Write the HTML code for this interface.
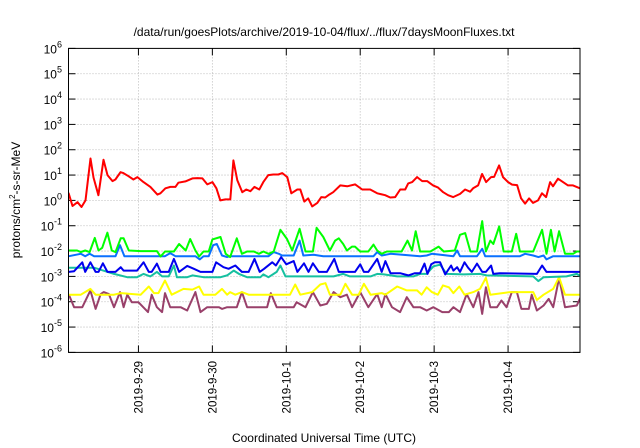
<!DOCTYPE html>
<html><head><meta charset="utf-8">
<style>
html,body{margin:0;padding:0;background:#fff;}
svg{display:block;font-family:"Liberation Sans",sans-serif;}
</style></head>
<body>
<svg id="chart" width="640" height="448" viewBox="0 0 640 448">
  <text x="324" y="36" font-size="12" text-anchor="middle" fill="#000">/data/run/goesPlots/archive/2019-10-04/flux/../flux/7daysMoonFluxes.txt</text>
  <g id="grid"></g>
  <g id="yaxis"></g>
  <g id="xaxis"></g>
  <defs><clipPath id="plotclip"><rect x="68.5" y="48.4" width="511.5" height="304"/></clipPath></defs>
  <g id="series" clip-path="url(#plotclip)"></g>
  <rect x="68.5" y="48.4" width="511.5" height="304" fill="none" stroke="#000" stroke-width="1"/>
  <text transform="translate(20,200) rotate(-90)" font-size="12" text-anchor="middle">protons/cm<tspan font-size="8" dy="-5">2</tspan><tspan dy="5">-s-sr-MeV</tspan></text>
  <text x="324" y="442" font-size="12" text-anchor="middle">Coordinated Universal Time (UTC)</text>
</svg>
<script>
const yExps = [-6,-5,-4,-3,-2,-1,0,1,2,3,4,5,6];
const xTickDays = [1,2,3,4,5,6];
const xTickLabels = ["2019-9-29","2019-9-30","2019-10-1","2019-10-2","2019-10-3","2019-10-4"];

const redT = [.054,.108,.176,.23,.284,.351,.392,.459,.527,.581,.649,.689,.757,.797,.865,.932,.986,1.068,1.162,1.257,1.297,1.365,1.432,1.5,1.54,1.635,1.73,1.797,1.865,1.932,2.0,2.054,2.108,2.176,2.243,2.284,2.338,2.405,2.459,2.514,2.568,2.635,2.689,2.757,2.824,2.892,2.946,3.014,3.068,3.149,3.189,3.243,3.297,3.351,3.419,3.473,3.527,3.581,3.635,3.73,3.824,3.932,4.027,4.135,4.23,4.338,4.405,4.473,4.541,4.608,4.649,4.703,4.77,4.838,4.905,4.986,5.054,5.122,5.189,5.257,5.351,5.419,5.486,5.527,5.595,5.649,5.703,5.77,5.811,5.878,5.932,6.0,6.054,6.122,6.176,6.23,6.284,6.338,6.405,6.459,6.514,6.568,6.608,6.676,6.743,6.811,6.878,6.973];
const redV = [2,0.6,0.85,0.55,1.0,45,8,1.6,40,10,5.8,6.7,13,12,9,6.7,8.3,5.3,3.4,1.7,1.9,3,3.4,3.4,5,5.6,7.4,7.6,7.4,4.3,5.3,3,1,1.1,1.1,38,6.2,2.1,2.7,2.3,3.4,2.7,5.3,10,10.5,10.5,12,8.3,1.9,2.7,2.7,0.9,1.2,0.58,0.8,1.35,1.3,1.7,2.1,3.9,3.6,4.3,2.7,2.7,1.9,1.6,1.3,1.35,2.7,2.7,4.7,5.3,8.3,5.8,5.8,3.9,3.2,2.1,1.6,1.35,1.8,2.7,2.2,3,3.9,11,5.3,8.3,8.5,24,8.3,5.3,4.2,4,1.2,0.75,1.2,0.8,1,1.9,1.35,5.3,3.6,7.2,5.3,3.9,3.9,3];

const greenT = [.06,.17,.22,.28,.34,.41,.46,.51,.58,.64,.69,.76,.80,.87,1.03,1.25,1.30,1.36,1.48,1.55,1.64,1.70,1.77,1.82,1.88,1.95,2.00,2.11,2.18,2.24,2.33,2.40,2.47,2.56,2.63,2.69,2.76,2.83,2.92,3.01,3.08,3.18,3.26,3.36,3.41,3.50,3.59,3.66,3.71,3.77,3.82,3.89,3.93,4.00,4.11,4.18,4.23,4.29,4.36,4.56,4.64,4.70,4.75,4.81,4.95,5.06,5.13,5.28,5.35,5.42,5.49,5.58,5.65,5.70,5.76,5.80,5.88,5.94,6.05,6.11,6.16,6.34,6.46,6.52,6.58,6.63,6.69,6.77,6.88,6.93,7.00];
const greenV = [.0105,.0105,.0091,.0105,.0091,.033,.0105,.0135,.053,.0105,.0091,.032,.032,.0105,.010,.010,.0061,.0096,.0096,.019,.0105,.030,.0105,.0061,.0096,.0096,.029,.036,.0078,.0058,.032,.0078,.0096,.0096,.0078,.0096,.0078,.0096,.069,.030,.0105,.076,.0096,.0096,.083,.036,.0105,.026,.032,.019,.0105,.015,.015,.0096,.0096,.018,.0105,.0078,.0096,.0096,.026,.0105,.061,.0096,.0096,.015,.0096,.0105,.044,.051,.0096,.0096,.152,.0096,.026,.019,.094,.0096,.0096,.048,.0096,.0096,.069,.0078,.069,.0096,.061,.0078,.0078,.0096,.0096];

const lblueT = [.06,.22,.28,.34,.40,.69,.75,.81,1.36,1.43,1.50,1.77,1.83,1.88,1.95,2.01,2.06,2.13,2.20,2.24,2.76,2.83,2.90,2.94,3.10,3.18,3.23,3.37,3.50,4.18,4.23,4.29,4.41,4.81,4.90,4.97,5.26,5.31,5.35,5.58,5.65,5.69,6.16,6.23,6.34,6.41,6.48,6.52,6.61,7.00];
const lblueV = [.0063,.0078,.0063,.0078,.0063,.0063,.017,.0063,.0063,.0083,.0063,.0063,.0047,.0063,.0063,.017,.019,.0067,.0058,.0063,.0063,.0091,.0078,.0067,.0067,.026,.0067,.0071,.0063,.0063,.0091,.0067,.0078,.0063,.0067,.0078,.0063,.0105,.0063,.0063,.0123,.0063,.0063,.0078,.0067,.0058,.0067,.0047,.0063,.0063];

const blueT = [.06,.13,.24,.28,.35,.42,.46,.52,.58,.69,.76,.80,.98,1.07,1.14,1.18,1.25,1.30,1.41,1.48,1.55,1.66,1.75,1.84,2.00,2.05,2.15,2.22,2.31,2.40,2.49,2.57,2.64,2.70,2.81,2.86,2.93,3.00,3.10,3.15,3.24,3.30,3.36,3.44,3.55,3.65,3.71,3.93,4.00,4.05,4.11,4.23,4.29,4.34,4.41,4.54,4.65,4.74,4.81,4.87,4.91,4.96,5.01,5.08,5.15,5.23,5.26,5.31,5.35,5.41,5.46,5.51,5.58,5.65,5.70,5.77,5.80,5.89,6.39,6.46,6.52,7.00];
const blueV = [.0015,.0016,.0036,.0015,.0036,.0015,.0015,.0033,.0015,.0015,.0023,.0017,.0017,.0036,.0015,.0015,.0032,.0015,.0015,.0049,.0015,.0026,.0020,.0015,.0015,.0036,.0023,.0020,.0027,.0015,.0015,.0049,.0015,.0020,.0036,.0027,.0058,.0030,.0040,.0015,.0033,.0015,.0033,.0015,.0015,.0049,.0015,.0015,.0030,.0015,.0015,.0049,.0015,.0040,.00134,.00134,.0011,.00134,.00134,.0032,.00126,.0030,.0036,.0036,.0012,.0027,.0017,.0023,.0015,.0036,.0022,.0015,.0032,.0015,.0015,.0027,.00126,.00134,.00126,.0027,.0015,.0015];

const tealT = [.06,.40,.67,.85,.98,1.07,1.16,1.25,1.32,1.41,1.48,1.52,1.66,1.73,1.88,2.11,2.20,2.29,2.36,2.47,2.65,2.69,2.76,2.87,2.92,2.99,3.64,3.77,3.86,4.14,4.23,4.32,4.50,4.72,4.81,4.90,4.99,5.08,5.17,5.40,5.62,5.71,6.34,6.41,6.48,6.79,6.93,7.00];
const tealV = [.0022,.0022,.00126,.00093,.00093,.00126,.0010,.0015,.0010,.0010,.0027,.00093,.00093,.0011,.00093,.00093,.0011,.0017,.00126,.00093,.00093,.0012,.00093,.0015,.0027,.0010,.0010,.00126,.0010,.0010,.00126,.0012,.0010,.0010,.00126,.00126,.0025,.0029,.00126,.0012,.00126,.0011,.0010,.00065,.00093,.0010,.00126,.00093];

const yellowT = [.06,.22,.35,.42,.67,.76,1.03,1.14,1.21,1.27,1.36,1.45,1.61,1.73,1.82,1.88,2.04,2.13,2.20,2.24,2.31,2.40,2.49,3.05,3.12,3.19,3.35,3.46,3.53,3.59,3.73,3.80,3.89,3.98,4.05,4.14,4.29,4.34,4.50,4.63,4.77,4.83,4.90,4.97,5.05,5.12,5.20,5.26,5.34,5.41,5.53,5.62,5.70,5.76,6.03,6.34,6.39,6.48,6.61,6.69,6.77,7.00];
const yellowV = [.00019,.00019,.00032,.00019,.00019,.00022,.00019,.00040,.00022,.00022,.00069,.00019,.00032,.00030,.00040,.00019,.00019,.00032,.00019,.00024,.00019,.00024,.00019,.00019,.00048,.00019,.00024,.00048,.00054,.00019,.00019,.00051,.00019,.00019,.00051,.00019,.00022,.00019,.00040,.00028,.00028,.00019,.00037,.00024,.00019,.00044,.00037,.00022,.00040,.00019,.00024,.00032,.00088,.00019,.00024,.00024,.000118,.00019,.00032,.00093,.00019,.00019];

const purpleT = [.06,.13,.24,.35,.42,.49,.53,.60,.67,.75,.80,.85,.91,1.00,1.13,1.18,1.25,1.32,1.36,1.43,1.57,1.66,1.77,1.84,1.93,2.09,2.13,2.20,2.33,2.40,2.47,2.74,2.79,2.87,3.10,3.14,3.26,3.36,3.46,3.55,3.64,3.73,3.82,3.89,4.00,4.11,4.23,4.29,4.34,4.43,4.54,4.63,4.72,4.81,4.90,4.99,5.11,5.20,5.26,5.35,5.44,5.53,5.60,5.65,5.70,5.76,5.85,5.91,5.98,6.05,6.12,6.18,6.28,6.32,6.39,6.48,6.55,6.61,6.69,6.77,6.93,7.00];
const purpleV = [.00019,.000061,.000061,.00028,.000052,.00020,.00024,.00020,.000061,.00024,.000061,.00019,.000096,.000096,.000039,.00019,.000061,.000039,.00022,.000061,.000061,.000045,.00024,.000039,.000061,.000061,.000052,.000061,.000061,.00024,.000061,.000061,.00022,.000061,.000061,.000096,.000061,.00024,.000071,.000083,.00024,.000151,.00019,.000061,.00024,.000061,.00020,.000061,.00020,.000061,.000039,.000151,.000061,.000061,.000045,.000061,.000039,.000039,.000061,.000039,.00020,.000061,.00024,.000033,.00037,.000061,.000061,.000112,.000061,.00024,.00024,.000052,.000052,.00019,.000045,.000071,.000129,.000061,.00088,.000061,.000071,.00020];

const NS = "http://www.w3.org/2000/svg";
const L = 68.5, R = 580, T = 48.4, B = 352.4;
const xMin = 0.054, xMax = 6.973;
function xs(d){ return L + (d - xMin) / (xMax - xMin) * (R - L); }
function ys(v){ return B - (Math.log10(v) + 6) / 12 * (B - T); }
function mk(tag, attrs, parent){
  const e = document.createElementNS(NS, tag);
  for (const k in attrs) e.setAttribute(k, attrs[k]);
  parent.appendChild(e);
  return e;
}
const grid = document.getElementById('grid');
const yax = document.getElementById('yaxis');
const xax = document.getElementById('xaxis');

yExps.forEach(function(p){
  const y = ys(Math.pow(10, p));
  if (p > -6 && p < 6) {
    const g = mk('line', {x1:L, x2:R, y1:y, y2:y, stroke:'#aaa', 'stroke-width':0.8, 'stroke-dasharray':'1,2'}, grid);
    
    
  }
  const t1 = mk('line', {x1:L, x2:L+7, y1:y, y2:y, stroke:'#000'}, yax);
  
  
  const t2 = mk('line', {x1:R-7, x2:R, y1:y, y2:y, stroke:'#000'}, yax);
  
  
  const tx = mk('text', {x:62, y:y+5, 'font-size':12, 'text-anchor':'end'}, yax);
  
  
  const ts1 = mk('tspan', {}, tx); ts1.textContent = '10';
  const ts2 = mk('tspan', {'font-size':9, dy:-6}, tx); ts2.textContent = String(p);
});

xTickDays.forEach(function(d, i){
  const x = xs(d);
  const g = mk('line', {x1:x, x2:x, y1:T, y2:B, stroke:'#aaa', 'stroke-width':0.8, 'stroke-dasharray':'1,2'}, grid);
  
  
  const t1 = mk('line', {x1:x, x2:x, y1:B-7, y2:B, stroke:'#000'}, xax);
  
  
  const t2 = mk('line', {x1:x, x2:x, y1:T, y2:T+7, stroke:'#000'}, xax);
  
  
  const tx = mk('text', {transform:'translate(' + (x+4) + ',361) rotate(-90)', 'font-size':11.5, 'text-anchor':'end'}, xax);
  
  
  tx.textContent = xTickLabels[i];
});

const seriesG = document.getElementById('series');
function drawSeries(ts, vs, color, name){
  let d = '';
  for (let i = 0; i < ts.length; i++) d += (i ? 'L' : 'M') + xs(ts[i]).toFixed(1) + ',' + ys(vs[i]).toFixed(1);
  const p = mk('path', {d:d, fill:'none', stroke:color, 'stroke-width':2, 'stroke-linejoin':'round'}, seriesG);
  
  
}
drawSeries(purpleT, purpleV, '#99406a', 'series-purple');
drawSeries(yellowT, yellowV, '#ffff00', 'series-yellow');
drawSeries(tealT, tealV, '#16c0a0', 'series-teal');
drawSeries(blueT, blueV, '#0000ee', 'series-blue');
drawSeries(lblueT, lblueV, '#0a70ff', 'series-light-blue');
drawSeries(greenT, greenV, '#00ff00', 'series-green');
drawSeries(redT, redV, '#ff0000', 'series-red');
</script>
</body></html>
